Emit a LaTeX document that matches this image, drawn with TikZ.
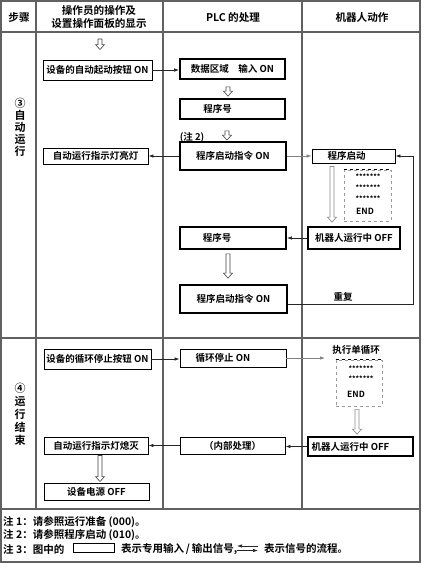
\documentclass[tikz,border=0pt]{standalone}
\usepackage{fontspec}
\setmainfont{Noto Sans CJK SC}[BoldFont={Noto Sans CJK SC Bold}]
\usetikzlibrary{arrows.meta,calc}
\tikzset{
  tb/.style={font=\bfseries\fontsize{9.5}{11}\selectfont},
  hd/.style={font=\bfseries\fontsize{10.6}{12.5}\selectfont, align=center},
  thinbox/.style={draw=black, line width=0.9pt, inner sep=0pt, tb},
  thickbox/.style={draw=black, line width=1.8pt, inner sep=0pt, tb},
  dbox/.style={draw=black!40, dashed, line width=0.7pt, inner sep=0pt},
  gridline/.style={draw=black!62, line width=1.3pt},
  con/.style={draw=black!85, line width=0.7pt, -{Latex[length=5pt,width=3.5pt]}},
  gcon/.style={con, draw=black!50},
  hollow/.style={draw=black!75, line width=0.6pt, fill=white},
  ghollow/.style={draw=black!45, line width=0.7pt, fill=white},
  star/.style={font=\bfseries\fontsize{7}{7}\selectfont, inner sep=0pt},
  note/.style={font=\bfseries\fontsize{10.5}{12}\selectfont, anchor=west, inner sep=0pt},
}
\newcommand\bx[7]{\node[#1, minimum width={(#5-#3)*1pt}, minimum height={(#6-#4)*1pt}] (#2) at ({(#3+#5)/2},{(#4+#6)/2}) {#7};}
\newcommand\harrow[3][hollow]{\draw[#1] let \p1=#2, \p2=#3 in (\x1-2pt,\y1) -- (\x1-2pt,\y2+5pt) -- (\x1-4.5pt,\y2+5pt) -- (\x1,\y2) -- (\x1+4.5pt,\y2+5pt) -- (\x1+2pt,\y2+5pt) -- (\x1+2pt,\y1) -- cycle;}
\begin{document}
\begin{tikzpicture}[x=1pt,y=-1pt]
\useasboundingbox (0,0) rectangle (422,563);
% grid
\draw[gridline] (1,1) rectangle (420,562);
\draw[gridline] (36,1) -- (36,509);
\draw[gridline] (163,1) -- (163,509);
\draw[gridline] (302,1) -- (302,509);
\draw[gridline] (1,32) -- (420,32);
\draw[gridline] (1,338) -- (420,338);
\draw[gridline] (1,509) -- (420,509);
% header
\node[hd] (h0) at (19,17) {步骤};
\node[hd] (h1) at (99,17) {操作员的操作及\\设置操作面板的显示};
\node[hd] (h2) at (233,17) {PLC 的处理};
\node[hd] (h3) at (362,17) {机器人动作};
% step labels
\node[font=\bfseries\fontsize{11}{12}\selectfont, align=center] (s3) at (20,127) {③\\自\\动\\运\\行};
\node[font=\bfseries\fontsize{11}{13}\selectfont, align=center] (s4) at (20,414) {④\\运\\行\\结\\束};
% section 3 boxes
\bx{thinbox}{b1}{43}{60}{152}{80}{设备的自动起动按钮 ON}
\bx{thickbox}{b2}{180}{59}{285}{79}{数据区域　输入 ON}
\bx{thickbox}{b3}{180}{99}{285}{119}{程序号\hspace*{30pt}}
\bx{thickbox}{b4}{180}{142}{286}{170}{程序启动指令 ON}
\bx{thinbox}{b5}{43}{148}{148}{164}{自动运行指示灯亮灯}
\bx{thinbox}{b6}{312}{149}{395}{163}{程序启动\hspace*{14pt}}
\bx{thickbox}{b7}{308}{227}{400}{249}{机器人运行中 OFF}
\bx{thickbox}{b8}{180}{227}{286}{249}{程序号\hspace*{32pt}}
\bx{thickbox}{b9}{180}{285}{287}{313}{程序启动指令 ON}
\node[dbox, minimum width=47pt, minimum height=51pt] (d1) at (367.5,195.5) {};
\draw[black, dashed, line width=0.7pt] (d1.north west) -- (d1.north east);
\node[star] (d1a) at (368,177) {*******};
\node[star] (d1b) at (368,188) {*******};
\node[star] (d1c) at (368,199) {*******};
\node[tb, font=\bfseries\fontsize{8.5}{9}\selectfont] (d1d) at (365,211) {END};
\node[tb] (rep) at (343,297) {重复};
\node[tb] (n2) at (192,137) {(注 2)};
% section 4 boxes
\bx{thinbox}{b10}{44}{349}{151}{369}{设备的循环停止按钮 ON}
\bx{thinbox}{b11}{180}{349}{286}{367}{循环停止 ON\hspace*{20pt}}
\node[tb] (ex1) at (356,350) {执行单循环};
\node[dbox, minimum width=46pt, minimum height=46pt] (d2) at (359,383) {};
\draw[black, dashed, line width=0.7pt] (d2.north west) -- (d2.north east);
\node[star] (d2a) at (361,369) {*******};
\node[star] (d2b) at (361,379) {*******};
\node[tb, font=\bfseries\fontsize{8.5}{9}\selectfont] (d2c) at (356,394) {END};
\bx{thickbox}{b12}{308}{437}{413}{456}{机器人运行中 OFF\hspace*{20pt}}
\bx{thinbox}{b13}{180}{437}{285}{454}{（内部处理）}
\bx{thinbox}{b14}{44}{437}{148}{454}{自动运行指示灯熄灭}
\bx{thinbox}{b15}{44}{483}{149}{500}{设备电源 OFF}
% connectors
\draw[con] (b1.east) -- (b1.east -| b2.west);
\draw[con] (b4.west) -- (b4.west -| b5.east);
\draw[gcon] (b4.east) -- (b4.east -| b6.west);
\coordinate (lp) at (413,304);
\draw[con] ($(b9.east)+(0,5)$) -- (lp) |- (b6.east);
\draw[con] (b7.west) -- (b7.west -| b8.east);
\draw[con] (b10.east) -- (b10.east -| b11.west);
\coordinate (ex) at (325,358);
\draw[gcon] (b11.east |- ex) -- (ex);
\draw[con] (b12.west) -- (b12.west -| b13.east);
\draw[con] (b13.west) -- (b13.west -| b14.east);
% hollow arrows
\coordinate (a0) at (100,39);
\harrow{(a0)}{($(b1.north)+(0,-10)$)}
\harrow{($(b2.south)+(-4.5,7)$)}{($(b3.north)+(0,-2)$)}
\harrow{($(b3.south)+(-5.5,11)$)}{($(b4.north)+(0,-1)$)}
\harrow[ghollow]{($(b6.south)+(-21.5,3)$)}{($(b7.north)+(0,-4)$)}
\harrow{($(b8.south)+(-5,4)$)}{($(b9.north)+(0,-6)$)}
\harrow[ghollow]{($(d2.south)+(-2,3)$)}{($(b12.north)+(0,-2)$)}
\harrow{($(b14.south)+(4,1)$)}{($(b15.north)+(0,-1)$)}
% notes
\node[note] (nt1) at (3,522) {注 1：请参照运行准备 (000)。};
\node[note] (nt2) at (3,535.5) {注 2：请参照程序启动 (010)。};
\node[note] (nt3) at (3,549) {注 3：图中的};
\node[thickbox, minimum width=41pt, minimum height=9pt] (lg) at (94,548) {};
\node[note] (nt4) at (121,549) {表示专用输入\,/\,输出信号,};
\coordinate (la1) at (258,546);
\coordinate (la2) at (237,546);
\coordinate (la3) at (237,550.5);
\coordinate (la4) at (258,550.5);
\draw[con] (la1) -- (la2);
\draw[con] (la3) -- (la4);
\node[note] (nt5) at (264,549) {表示信号的流程。};
\end{tikzpicture}
\end{document}
